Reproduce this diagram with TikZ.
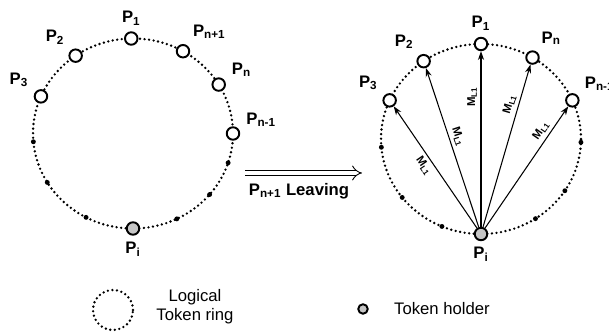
\documentclass[tikz,border=0pt]{standalone}
\usepackage{fontspec}
\setmainfont{Liberation Sans}
\usetikzlibrary{arrows.meta}
\newcommand{\sub}[1]{\textsubscript{#1}}

\tikzset{
  ring/.style={line width=1.5pt, dash pattern=on 0pt off 2.6pt, line cap=round},
  proc/.style={circle, draw, line width=1.1pt, fill=white, inner sep=0pt, minimum size=2.5mm,
    label distance=1pt},
  holder/.style={proc, fill=gray!45},
  tick/.style={circle, fill, inner sep=0pt, minimum size=2.8pt},
  lbl/.style={font=\bfseries\fontsize{9.5}{10}\selectfont},
  msg/.style={-{Stealth[length=5pt,width=3.5pt]}, line width=0.6pt},
  mlbl/.style={font=\bfseries\fontsize{6.5}{7}\selectfont, sloped, inner sep=2pt},
  every label/.style={lbl}
}

\begin{document}
\begin{tikzpicture}[x=0.02cm,y=0.02cm]
    \useasboundingbox (0,0) rectangle (609,333);

    % ring before P_{n+1} leaves
    \begin{scope}[shift={(133,199.5)}]
        \draw[ring] (0,0) ellipse (100 and 95);
        \foreach \a in {185,211,242,296,320,342}
            \node[tick] at (\a:100 and 95) {};
        \node[proc, label=90:P\sub{1}] (l1) at (91:100 and 95) {};
        \node[proc, label=135:P\sub{2}] (l2) at (125:100 and 95) {};
        \node[proc, label=155:P\sub{3}] (l3) at (157:100 and 95) {};
        \node[proc, label=58:P\sub{n+1}] (lnp) at (60:100 and 95) {};
        \node[proc, label=15:P\sub{n}] (ln) at (31:100 and 95) {};
        \node[proc, label=5:P\sub{n-1}] (lnm) at (0:100 and 95) {};
        \node[holder, label=270:P\sub{i}] (li) at (270:100 and 95) {};
    \end{scope}

    % leaving step
    \coordinate (gofrom) at (245,160);
    \coordinate (goto) at (362,160);
    \draw[double, double distance=2.5pt, line width=0.5pt, -{Implies}] (gofrom) -- (goto);
    \node[lbl] (leave) at (299,142) {P\sub{n+1} Leaving};

    % ring after, token holder informs the others
    \begin{scope}[shift={(481,194)}]
        \draw[ring] (0,0) ellipse (100 and 95);
        \foreach \a in {185,218,247,303,327,358}
            \node[tick] at (\a:100 and 95) {};
        \node[proc, label=90:P\sub{1}] (r1) at (90:100 and 95) {};
        \node[proc, label=123:P\sub{2}] (r2) at (125:100 and 95) {};
        \node[proc, label=145:P\sub{3}] (r3) at (156:100 and 95) {};
        \node[proc, label=66:P\sub{n}] (rn) at (59:100 and 95) {};
        \node[proc, label=28:P\sub{n-1}] (rnm) at (24:100 and 95) {};
        \node[holder, label=270:P\sub{i}] (ri) at (270:100 and 95) {};
    \end{scope}
    \draw[msg] (ri) -- (r3) node[mlbl, pos=0.55, below] {M\sub{L1}};
    \draw[msg] (ri) -- (r2) node[mlbl, pos=0.55, above] {M\sub{L1}};
    \draw[msg] (ri) -- (r1) node[mlbl, pos=0.74, above] {M\sub{L1}};
    \draw[msg] (ri) -- (rn) node[mlbl, pos=0.74, above] {M\sub{L1}};
    \draw[msg] (ri) -- (rnm) node[mlbl, pos=0.76, above] {M\sub{L1}};

    % legend
    \draw[ring] (113,23) circle (20);
    \node[align=center, font=\fontsize{9.5}{11}\selectfont] (ringkey) at (195,26) {Logical\\Token ring};
    \node[holder, minimum size=1.9mm] (holdkey) at (363,24) {};
    \node[anchor=west, font=\fontsize{9.5}{11}\selectfont] (holdtext) at (388,24) {Token holder};
\end{tikzpicture}
\end{document}
